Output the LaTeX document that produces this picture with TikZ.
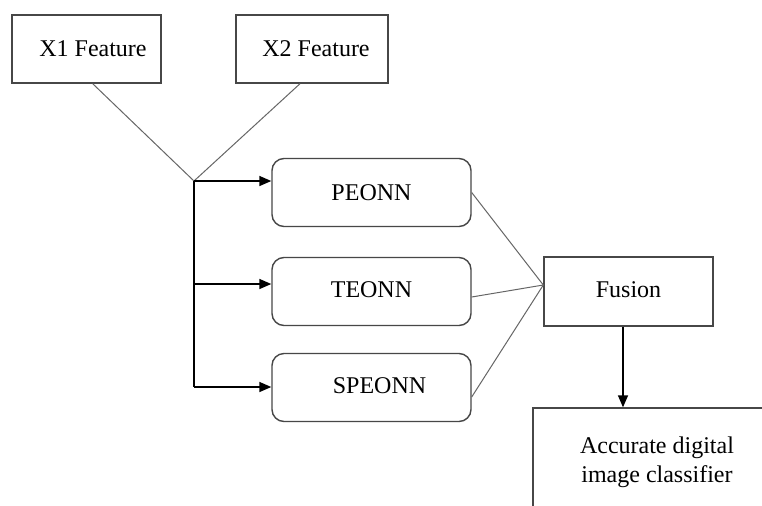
\documentclass[tikz,border=0pt]{standalone}
\usepackage{fontspec}
\setmainfont{Liberation Serif}
\usetikzlibrary{arrows.meta,calc}
\begin{document}
\begin{tikzpicture}[x=0.5pt,y=-0.5pt,
  every node/.style={font=\fontsize{12}{14.5}\selectfont,inner sep=0pt},
  sqbox/.style={draw=black!72,line width=0.7pt,fill=white},
  rbox/.style={draw=black!72,line width=0.7pt,rounded corners=6pt,fill=white,minimum width=99.5pt,minimum height=34pt},
  link/.style={draw=black!60,line width=0.5pt},
  arr/.style={draw=black,line width=0.75pt,-{Triangle[length=6pt,width=5pt]}}]
\clip (0,0) rectangle (762,505);
\fill[white] (0,0) rectangle (762,505);
% feature boxes
\node[sqbox,minimum width=74.5pt,minimum height=34pt] (x1) at (86.5,49) {\hspace*{6.5pt}X1 Feature};
\node[sqbox,minimum width=76pt,minimum height=34pt] (x2) at (312,49) {\hspace*{4pt}X2 Feature};
% junction
\coordinate (j1) at (194,181);
\coordinate (j2) at (194,284);
\coordinate (j3) at (194,387);
% networks
\node[rbox] (pe) at (371.5,192.5) {PEONN};
\node[rbox] (te) at (371.5,291.5) {\raisebox{1.5pt}{TEONN}};
\node[rbox] (sp) at (371.5,387.5) {\hspace*{8pt}\raisebox{2pt}{SPEONN}};
% fusion
\node[sqbox,minimum width=84.5pt,minimum height=34.5pt] (fu) at (628.5,291.5) {\raisebox{1.5pt}{Fusion}};
% classifier
\node[sqbox,minimum width=133.5pt,minimum height=66pt] (acc) at (666.5,474) {};
\node[align=center] (acct) at (657,462) {Accurate digital\\image classifier};
% connectors
\draw[link] ($(x1.south)+(6.2,0)$) -- (j1);
\draw[link] ($(x2.south)+(-12,0)$) -- (j1);
\draw[line width=0.75pt] (j1) -- (j3);
\draw[arr] (j1) -- (j1 -| pe.west);
\draw[arr] (j2) -- (j2 -| te.west);
\draw[arr] (j3) -- (j3 -| sp.west);
\coordinate (fin) at ($(fu.west)+(0,-6.5)$);
\draw[link] (pe.east) -- (fin);
\draw[link] ($(te.east)+(0,5.5)$) -- (fin);
\draw[link] ($(sp.east)+(0,9.5)$) -- (fin);
\coordinate (fo) at ($(fu.south)+(-5.5,0)$);
\draw[arr] (fo) -- (fo |- acc.north);
\end{tikzpicture}
\end{document}
